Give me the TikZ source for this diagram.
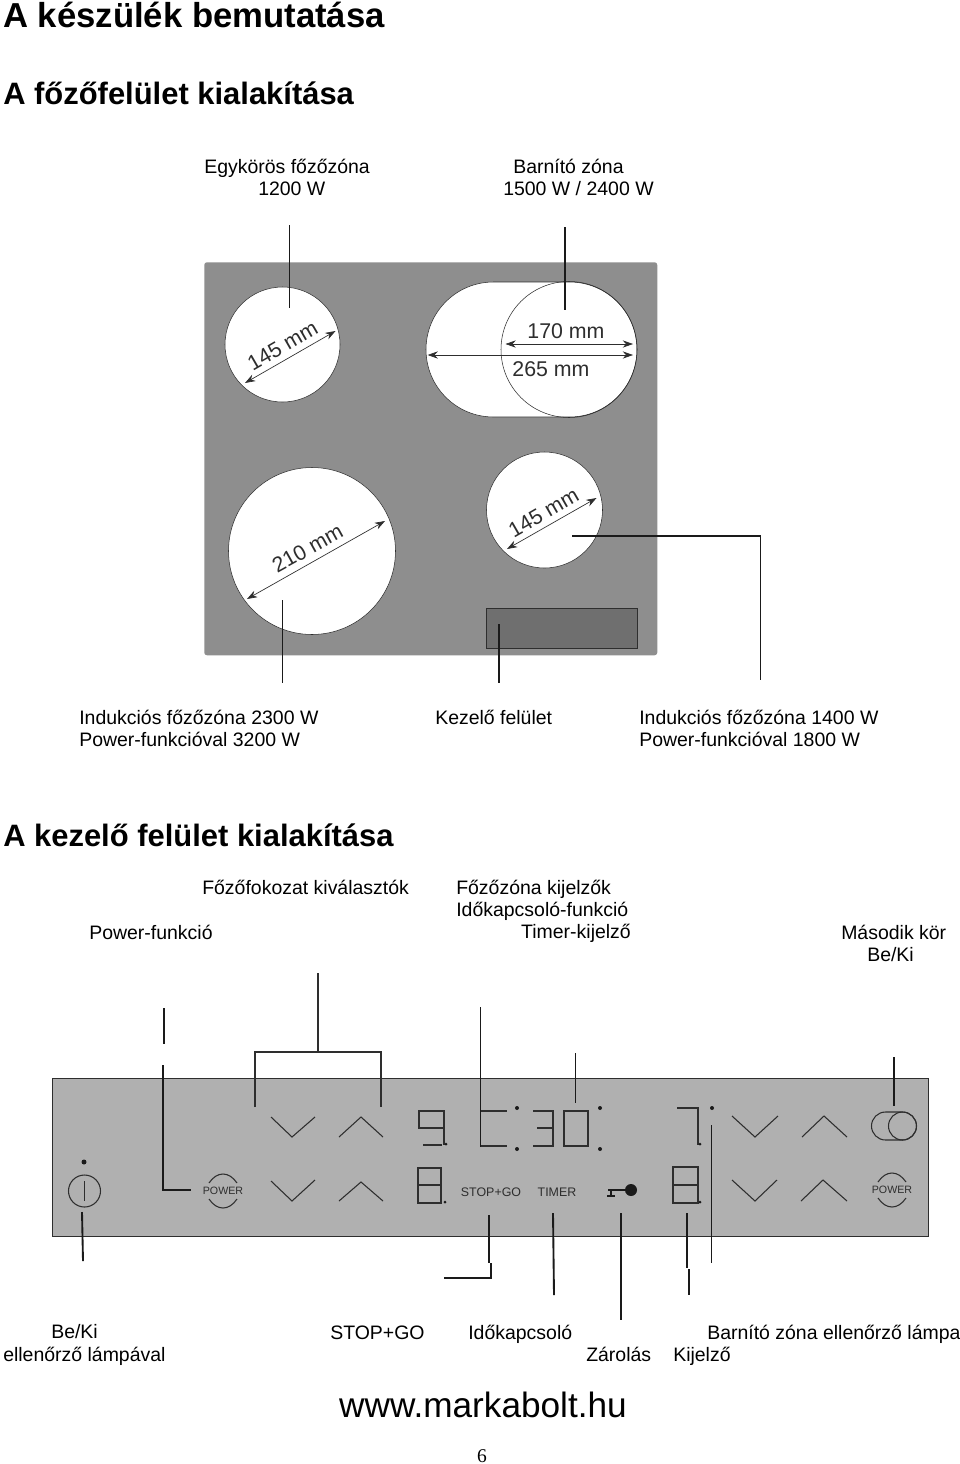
\documentclass[tikz,border=0pt]{standalone}
\usepackage{fontspec}
\setmainfont{Liberation Sans}
\newfontfamily\pagefont{Liberation Serif}
\usetikzlibrary{arrows.meta,positioning}
\definecolor{ink}{HTML}{1A1A1A}
\definecolor{hob}{HTML}{8E8E8E}
\definecolor{ctrl}{HTML}{6F6F6F}
\definecolor{strip}{HTML}{B0B0B0}
\definecolor{mark}{HTML}{2E2E2E}
\tikzset{
  h1/.style={anchor=north west, inner sep=0pt, font=\fontsize{26}{30}\selectfont\bfseries},
  h2/.style={anchor=north west, inner sep=0pt, font=\fontsize{23.2}{27}\selectfont\bfseries},
  lbl/.style={anchor=north west, inner sep=0pt, align=left, font=\fontsize{14.6}{16.7}\selectfont,
              execute at begin node=\rule{0pt}{11pt}},
  zone/.style={circle, draw=mark, fill=white, line width=0.4pt, inner sep=0pt, minimum size=#1*0.75pt},
  dimtxt/.style={inner sep=0pt, text=mark, font=\fontsize{16}{18}\selectfont},
  dimln/.style={{Stealth[length=2.7mm,width=1.9mm]}-{Stealth[length=2.7mm,width=1.9mm]}, draw=mark, line width=0.5pt},
  lead/.style={draw=ink, line width=0.8pt},
  leadb/.style={draw=ink, line width=1.4pt},
  seg/.style={draw=mark, line width=1pt},
  sym/.style={draw=mark, line width=0.8pt},
  pwtxt/.style={inner sep=0pt, text=mark, font=\fontsize{8}{9}\selectfont},
  captxt/.style={inner sep=0pt, text=mark, font=\fontsize{9.3}{10}\selectfont},
}
\newcommand{\powerarcs}[2]{
  \draw[sym,shift={(#1,#2)}] (-14,-8) .. controls (-6,-20) and (6,-20) .. (14,-8);
  \draw[sym,shift={(#1,#2)}] (-14,8) .. controls (-6,20) and (6,20) .. (14,8);
}
\begin{document}
\begin{tikzpicture}[x=0.75pt,y=-0.75pt]
\useasboundingbox (0,0) rectangle (960,1464);

% --- headings ------------------------------------------------------------
\node[h1] (title) at (3,2) {A készülék bemutatása};
\node[h2] (hobhead) at (3,82) {A főzőfelület kialakítása};
\node[h2] (ctrlhead) at (3,824) {A kezelő felület kialakítása};

% --- labels above the hob ------------------------------------------------
\node[lbl] (lbsingle) at (204,159) {Egykörös főzőzóna\\\hspace*{40.5pt}1200 W};
\node[lbl] (lbbrown) at (503,159) {\hspace*{7.5pt}Barnító zóna\\1500 W / 2400 W};

% --- hob plate -----------------------------------------------------------
\node[rectangle, rounded corners=2pt, draw=none, fill=hob, anchor=north west,
      minimum width=453*0.75pt, minimum height=393*0.75pt] (plate) at (204,262) {};
\node[zone=115] (zonetl) at (282.5,344.5) {};
\node[rectangle, rounded corners=50.6pt, draw=mark, fill=white, line width=0.4pt,
      minimum width=211*0.75pt, minimum height=135*0.75pt] (zonebrown) at (531.5,349.5) {};
\node[zone=136, fill=none] (zoneinner) at (569,349.5) {};
\node[zone=167] (zonebl) at (312,551) {};
\node[zone=116] (zonebr) at (544.5,510) {};
\node[rectangle, draw=mark, fill=ctrl, line width=0.3pt, anchor=north west,
      minimum width=151*0.75pt, minimum height=40*0.75pt] (ctrlrect) at (486,608) {};

% --- dimensions ----------------------------------------------------------
\coordinate (dtla) at (245,383);  \coordinate (dtlb) at (335.5,331);
\coordinate (dina) at (505.5,344); \coordinate (dinb) at (633,344);
\coordinate (dbra) at (427.6,355); \coordinate (dbrb) at (633,355);
\coordinate (dbla) at (247,599);  \coordinate (dblb) at (385,521);
\coordinate (drba) at (507,549);  \coordinate (drbb) at (596.5,498);
\draw[dimln] (dtla) -- (dtlb);
\draw[dimln] (dina) -- (dinb);
\draw[dimln] (dbra) -- (dbrb);
\draw[dimln] (dbla) -- (dblb);
\draw[dimln] (drba) -- (drbb);
\node[dimtxt, rotate=30] (ttl) at (282.5,345.5) {145 mm};
\node[dimtxt] (tin) at (566,331) {170 mm};
\node[dimtxt] (tbr) at (551,369.5) {265 mm};
\node[dimtxt, rotate=29] (tbl) at (307.5,548.5) {210 mm};
\node[dimtxt, rotate=30] (trb) at (543.5,512.5) {145 mm};

% --- hob leaders ---------------------------------------------------------
\coordinate (lsa) at (289.5,225); \coordinate (lsb) at (289.5,308);
\coordinate (lba) at (565,227);   \coordinate (lbb) at (565,310);
\coordinate (lia) at (282.5,600); \coordinate (lib) at (282.5,683);
\coordinate (lka) at (499,624);   \coordinate (lkb) at (499,683);
\coordinate (lra) at (572,536);   \coordinate (lrc) at (760.5,536); \coordinate (lrb) at (760.5,680);
\draw[lead] (lsa) -- (lsb);
\draw[lead] (lba) -- (lbb);
\draw[leadb] (lia) -- (lib);
\draw[lead] (lka) -- (lkb);
\draw[lead] (lra) -- (lrc) -- (lrb);

% --- labels below the hob ------------------------------------------------
\node[lbl] (lbind) at (79,709.5) {Indukciós főzőzóna 2300 W\\Power-funkcióval 3200 W};
\node[lbl] (lbkez) at (435,709.5) {Kezelő felület};
\node[lbl] (lbind2) at (639,709.5) {Indukciós főzőzóna 1400 W\\Power-funkcióval 1800 W};

% --- labels above the strip ----------------------------------------------
\node[lbl] (lbfok) at (202,879.5) {Főzőfokozat kiválasztók};
\node[lbl] (lbkij) at (456,879.5) {Főzőzóna kijelzők\\Időkapcsoló-funkció\\\hspace*{48.7pt}Timer-kijelző};
\node[lbl] (lbpow) at (89,925) {Power-funkció};
\node[lbl] (lbmas) at (841,925) {Második kör\\\hspace*{19.5pt}Be/Ki};

% --- control strip -------------------------------------------------------
\node[rectangle, draw=mark, fill=strip, line width=0.5pt, anchor=north west,
      minimum width=876*0.75pt, minimum height=158*0.75pt] (strip) at (52,1078) {};

% left power switch
\node[circle, draw=mark, line width=0.8pt, inner sep=0pt, minimum size=32*0.75pt] (onoff) at (84.5,1191) {};
\draw[sym] (onoff.center) ++(0,-10) -- ++(0,20);
\fill[ink] (84,1162) circle[radius=2.5] coordinate (onlamp);

% power buttons
\node[pwtxt] (powl) at (223,1191) {POWER};
\node[pwtxt] (powr) at (892,1190) {POWER};
\powerarcs{223}{1191}
\powerarcs{892}{1190}

% chevrons
\draw[sym] (271,1117) -- (292,1137) -- (315,1117);
\draw[sym] (339,1137) -- (361,1117) -- (383,1137);
\draw[sym] (271,1181) -- (292,1201) -- (315,1180);
\draw[sym] (339,1201) -- (361,1182) -- (383,1201);
\draw[sym] (732,1116) -- (755,1137) -- (778,1116);
\draw[sym] (802,1137) -- (824,1116) -- (847,1137);
\draw[sym] (732,1180) -- (755,1201) -- (777,1180);
\draw[sym] (801,1201) -- (823,1180) -- (847,1201);

% digits
\draw[seg] (444,1128) -- (419,1128) -- (419,1111) -- (444,1111) -- (444,1145);
\draw[seg, line width=1.6pt] (423,1145) -- (442,1145);
\draw[seg] (418,1168) rectangle (441,1203);
\draw[seg] (418,1185) -- (441,1185);
\draw[seg] (480,1111) -- (507,1111);
\draw[seg] (480,1146) -- (507,1146);
\draw[seg] (533,1111) -- (553,1111) -- (553,1146) -- (533,1146);
\draw[seg] (537,1128) -- (553,1128);
\draw[seg] (564,1111) rectangle (588,1146);
\draw[seg] (677,1108) -- (698,1108) -- (698,1145);
\draw[seg] (673,1167) rectangle (698,1203);
\draw[seg] (673,1185) -- (698,1185);

% display dots
\fill[ink] (446,1144) circle[radius=1.5] (445,1202) circle[radius=1.5]
  (517,1108) circle[radius=2] (517,1149) circle[radius=2]
  (600,1108) circle[radius=2] (600,1149) circle[radius=2]
  (700,1144) circle[radius=1.5] (712,1108) circle[radius=2] (700,1202) circle[radius=1.5];

% strip captions
\node[captxt] (stopgo) at (491,1192) {STOP+GO};
\node[captxt] (timer) at (557,1192) {TIMER};

% key symbol
\node[circle, fill=ink, inner sep=0pt, minimum size=12*0.75pt] (keyhead) at (631,1190) {};
\draw[leadb] (keyhead.center) -- (608,1190);
\draw[lead] (611,1190) -- (611,1196);
\draw[lead] (607,1196) -- (615,1196);

% second circle switch
\node[rectangle, rounded corners=10.5pt, draw=mark, line width=0.8pt, inner sep=0pt,
      minimum width=45*0.75pt, minimum height=28*0.75pt] (dualo) at (894,1126) {};
\node[circle, draw=mark, line width=0.8pt, inner sep=0pt, minimum size=28*0.75pt] (duali) at (902.5,1126) {};

% --- strip leaders -------------------------------------------------------
\coordinate (spa) at (164,1008);  \coordinate (spb) at (164,1044);
\coordinate (spc) at (163,1065);  \coordinate (spd) at (163,1190); \coordinate (spe) at (191,1190);
\coordinate (fka) at (318,973);   \coordinate (fkb) at (318,1052);
\coordinate (fkl) at (255,1052);  \coordinate (fkr) at (381,1052);
\coordinate (fkm) at (255,1107);  \coordinate (fkn) at (381,1107);
\coordinate (tma) at (480.5,1007);\coordinate (tmb) at (480.5,1147);
\coordinate (dga) at (575.5,1053);\coordinate (dgb) at (575.5,1103);
\coordinate (mka) at (894,1057);  \coordinate (mkb) at (894,1106);
\coordinate (ona) at (82,1212);   \coordinate (onb) at (83,1261);
\coordinate (sga) at (489,1215);  \coordinate (sgb) at (489,1263);
\coordinate (sgc) at (491,1263);  \coordinate (sgd) at (491,1278); \coordinate (sge) at (444,1278);
\coordinate (tra) at (553,1213);  \coordinate (trb) at (554,1295);
\coordinate (kya) at (621,1213);  \coordinate (kyb) at (621,1320);
\coordinate (kja) at (687,1213);  \coordinate (kjb) at (687,1268);
\coordinate (kjc) at (689,1269);  \coordinate (kjd) at (689,1295);
\coordinate (bra) at (711,1125);  \coordinate (brb) at (711,1263);
\draw[leadb] (spa) -- (spb);
\draw[lead] (spc) -- (spd) -- (spe);
\draw[lead, draw=mark] (fka) -- (fkb);
\draw[lead, draw=mark] (fkm) -- (fkl) -- (fkr) -- (fkn);
\draw[lead] (tma) -- (tmb);
\draw[lead] (dga) -- (dgb);
\draw[lead] (mka) -- (mkb);
\draw[leadb] (ona) -- (onb);
\draw[lead] (sga) -- (sgb);
\draw[leadb] (sgc) -- (sgd) -- (sge);
\draw[leadb] (tra) -- (trb);
\draw[leadb] (kya) -- (kyb);
\draw[leadb] (kja) -- (kjb);
\draw[leadb] (kjc) -- (kjd);
\draw[lead, line width=0.5pt] (bra) -- (brb);

% --- labels below the strip ----------------------------------------------
\node[lbl] (lbbeki) at (3,1324.5) {\hspace*{36pt}Be/Ki\\ellenőrző lámpával};
\node[lbl] (lbstop) at (330,1324.5) {STOP+GO};
\node[lbl] (lbido) at (468,1324.5) {Időkapcsoló};
\node[lbl] (lbbar) at (707,1324.5) {Barnító zóna ellenőrző lámpa};
\node[lbl] (lbzar) at (586,1347) {Zárolás};
\node[lbl] (lbkjz) at (673,1347) {Kijelző};

% --- footer --------------------------------------------------------------
\node[inner sep=0pt, font=\fontsize{26.4}{30}\selectfont] (web) at (483,1405) {www.markabolt.hu};
\node[inner sep=0pt, font=\pagefont\fontsize{14.6}{16}\selectfont] (pageno) at (482,1456) {6};
\end{tikzpicture}
\end{document}
